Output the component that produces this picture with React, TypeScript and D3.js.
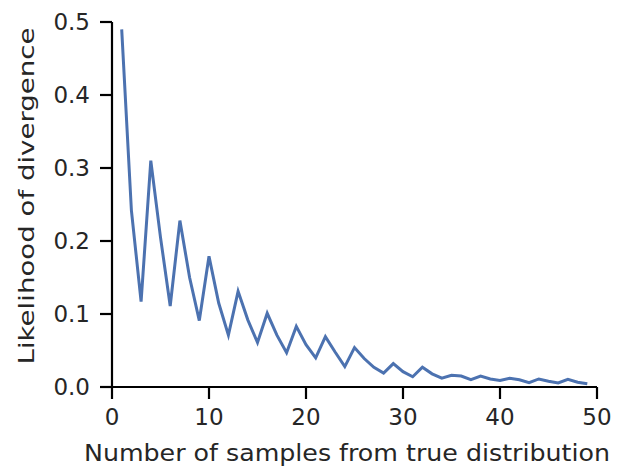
import React from "react";
import * as d3 from "d3";

const samples: number[] = d3.range(1, 50);
const likelihood: number[] = [
  0.49, 0.242, 0.117, 0.31, 0.205, 0.111, 0.228, 0.15, 0.091, 0.179,
  0.115, 0.071, 0.131, 0.092, 0.061, 0.101, 0.071, 0.047, 0.083, 0.058,
  0.04, 0.069, 0.048, 0.028, 0.054, 0.039, 0.027, 0.019, 0.032, 0.021,
  0.014, 0.027, 0.018, 0.012, 0.016, 0.015, 0.01, 0.015, 0.011, 0.009,
  0.012, 0.01, 0.006, 0.011, 0.008, 0.0055, 0.0105, 0.0065, 0.0045,
];
const xTicks: number[] = [0, 10, 20, 30, 40, 50];
const yTicks: number[] = [0, 0.1, 0.2, 0.3, 0.4, 0.5];
const xLabel = "Number of samples from true distribution";
const yLabel = "Likelihood of divergence";

const W = 631;
const H = 468;
const left = 112;
const right = 597;
const top = 22;
const bottom = 387;
const tickLen = 12;

export default function App() {
  const x = d3.scaleLinear().domain([0, 50]).range([left, right]);
  const y = d3.scaleLinear().domain([0, 0.5]).range([bottom, top]);
  const data = samples.map((s, i) => [s, likelihood[i]] as [number, number]);
  const line = d3
    .line<[number, number]>()
    .x((d) => x(d[0]))
    .y((d) => y(d[1]));
  const font = "'DejaVu Sans', sans-serif";
  const textColor = "#262626";
  return (
    <svg
      width={W}
      height={H}
      style={{ position: "absolute", left: 0, top: 0, background: "#fff" }}
      fontFamily={font}
    >
      <rect x={0} y={0} width={W} height={H} fill="#fff" />
      <path d={line(data) || ""} fill="none" stroke="#4C72B0" strokeWidth={3} strokeLinejoin="miter" />
      {/* spines */}
      <line x1={left} x2={left} y1={top} y2={bottom + 1} stroke="#000" strokeWidth={2.2} />
      <line x1={left - 1} x2={right} y1={bottom} y2={bottom} stroke="#000" strokeWidth={2.2} />
      {yTicks.map((t) => (
        <g key={"y" + t}>
          <line x1={left - tickLen} x2={left} y1={y(t)} y2={y(t)} stroke="#000" strokeWidth={2.2} />
          <text
            x={left - 22}
            y={y(t)}
            dy="0.36em"
            textAnchor="end"
            fontSize={23}
            fill={textColor}
          >
            {t.toFixed(1)}
          </text>
        </g>
      ))}
      {xTicks.map((t) => (
        <g key={"x" + t}>
          <line x1={x(t)} x2={x(t)} y1={bottom} y2={bottom + tickLen} stroke="#000" strokeWidth={2.2} />
          <text x={x(t)} y={425} textAnchor="middle" fontSize={23} fill={textColor}>
            {t}
          </text>
        </g>
      ))}
      <text
        x={347}
        y={461}
        textAnchor="middle"
        fontSize={23}
        textLength={526}
        lengthAdjust="spacingAndGlyphs"
        fill={textColor}
      >
        {xLabel}
      </text>
      <text
        transform={`translate(34, 196) rotate(-90)`}
        textAnchor="middle"
        fontSize={22}
        textLength={337}
        lengthAdjust="spacingAndGlyphs"
        fill={textColor}
      >
        {yLabel}
      </text>
    </svg>
  );
}
